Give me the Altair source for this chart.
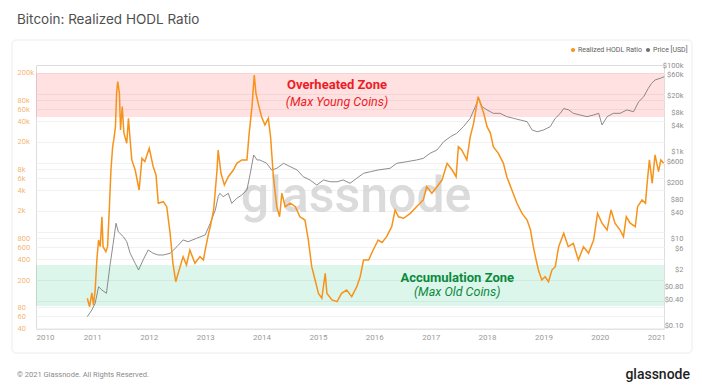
import altair as alt
import pandas as pd

# ---------------- data ----------------
hodl_years = [2010.91, 2010.95, 2010.99, 2011.02, 2011.05, 2011.08, 2011.11, 2011.14, 2011.17, 2011.19,
              2011.24, 2011.27, 2011.30, 2011.33, 2011.36, 2011.38, 2011.41, 2011.43, 2011.45, 2011.48,
              2011.50, 2011.53, 2011.56, 2011.61, 2011.64, 2011.67, 2011.70, 2011.76, 2011.83, 2011.88,
              2011.93, 2012.01, 2012.08, 2012.13, 2012.17, 2012.26, 2012.32, 2012.38, 2012.43, 2012.48,
              2012.54, 2012.61, 2012.67, 2012.73, 2012.82, 2012.91, 2012.97, 2013.00, 2013.06, 2013.09,
              2013.15, 2013.21, 2013.23, 2013.28, 2013.34, 2013.41, 2013.50, 2013.56, 2013.65, 2013.74,
              2013.78, 2013.83, 2013.87, 2013.90, 2013.94, 2014.00, 2014.06, 2014.12, 2014.16, 2014.21,
              2014.27, 2014.32, 2014.36, 2014.42, 2014.51, 2014.60, 2014.68, 2014.77, 2014.83, 2014.89,
              2014.95, 2015.01, 2015.07, 2015.13, 2015.16, 2015.25, 2015.34, 2015.42, 2015.51, 2015.60,
              2015.69, 2015.75, 2015.81, 2015.90, 2015.98, 2016.07, 2016.14, 2016.22, 2016.31, 2016.37,
              2016.43, 2016.52, 2016.64, 2016.75, 2016.87, 2016.93, 2017.02, 2017.11, 2017.20, 2017.29,
              2017.38, 2017.45, 2017.49, 2017.55, 2017.64, 2017.70, 2017.76, 2017.81, 2017.84, 2017.88,
              2017.94, 2018.00, 2018.06, 2018.11, 2018.20, 2018.29, 2018.35, 2018.44, 2018.53, 2018.62,
              2018.71, 2018.77, 2018.82, 2018.87, 2018.91, 2018.97, 2019.03, 2019.09, 2019.15, 2019.21,
              2019.27, 2019.36, 2019.44, 2019.53, 2019.62, 2019.71, 2019.80, 2019.89, 2019.96, 2020.04,
              2020.13, 2020.20, 2020.27, 2020.36, 2020.42, 2020.47, 2020.54, 2020.63, 2020.67, 2020.75,
              2020.81, 2020.84, 2020.88, 2020.93, 2020.98, 2021.04, 2021.08, 2021.13]
hodl_values = [109, 82, 130, 87, 143, 390, 760, 608, 1650, 608,
               514, 608, 2070, 7850, 17100, 21400, 33300, 101600, 149600, 101600,
               29900, 65000, 27000, 19200, 44100, 21400, 11000, 7850, 4030, 11600,
               10400, 16200, 8770, 6650, 2590, 2730, 2310, 950, 349, 189,
               279, 436, 330, 544, 349, 436, 390, 544, 950, 1184,
               2070, 7850, 15300, 7040, 4760, 6280, 7850, 9810, 11000, 11000,
               26700, 65000, 187000, 101600, 72700, 46500, 35300, 44100, 23800, 6280,
               2310, 1650, 3610, 2310, 2590, 2310, 1650, 1480, 760, 312,
               200, 128, 109, 250, 128, 103, 97, 128, 143, 115,
               160, 223, 390, 390, 544, 760, 700, 848, 1184, 2070,
               1650, 1570, 1850, 2310, 2890, 4500, 3610, 4500, 5620, 9810,
               7850, 6280, 17100, 15300, 11000, 23800, 37300, 65000, 90500, 72700,
               52100, 33300, 26700, 17100, 13700, 9810, 6280, 4030, 2590, 1850,
               1480, 1060, 608, 390, 279, 200, 223, 189, 279, 312,
               608, 950, 608, 680, 390, 608, 488, 760, 1850, 1330,
               1060, 2070, 1330, 1060, 848, 1650, 1330, 1184, 2310, 2890,
               2590, 5040, 11000, 5040, 13000, 7430, 11000, 9810]

price_years = [2010.91, 2010.99, 2011.05, 2011.11, 2011.17, 2011.25, 2011.31, 2011.37, 2011.42, 2011.46,
               2011.55, 2011.61, 2011.67, 2011.76, 2011.82, 2011.90, 2011.99, 2012.08, 2012.17, 2012.26,
               2012.38, 2012.50, 2012.61, 2012.70, 2012.85, 2013.00, 2013.09, 2013.18, 2013.23, 2013.26,
               2013.32, 2013.41, 2013.47, 2013.56, 2013.65, 2013.74, 2013.80, 2013.86, 2013.92, 2013.97,
               2014.09, 2014.18, 2014.27, 2014.39, 2014.51, 2014.63, 2014.74, 2014.86, 2014.98, 2015.10,
               2015.22, 2015.34, 2015.45, 2015.57, 2015.69, 2015.81, 2015.93, 2016.07, 2016.28, 2016.40,
               2016.58, 2016.75, 2016.87, 2016.99, 2017.11, 2017.23, 2017.35, 2017.46, 2017.58, 2017.70,
               2017.79, 2017.85, 2017.91, 2018.00, 2018.11, 2018.23, 2018.35, 2018.47, 2018.59, 2018.71,
               2018.80, 2018.89, 2019.00, 2019.12, 2019.21, 2019.30, 2019.36, 2019.45, 2019.53, 2019.65,
               2019.77, 2019.89, 2019.98, 2020.04, 2020.13, 2020.24, 2020.36, 2020.48, 2020.60, 2020.69,
               2020.78, 2020.86, 2020.92, 2020.98, 2021.07, 2021.14]
price_values = [0.164, 0.233, 0.332, 0.80, 0.67, 0.565, 2.31, 7.97, 23, 14.7,
                11.3, 8.67, 4.7, 2.76, 1.94, 3.29, 5.59, 4.7, 4.29, 4.29,
                4.7, 6.65, 9.5, 8.67, 10.4, 12.4, 23, 46.5, 94, 112,
                94, 112, 66, 86, 103, 134, 324, 853, 655, 655,
                550, 386, 422, 550, 459, 386, 270, 227, 174, 227,
                207, 207, 227, 191, 249, 324, 352, 386, 422, 550,
                599, 655, 716, 934, 1110, 1725, 2250, 2690, 3820, 5950,
                11000, 17150, 11000, 9260, 7750, 7750, 6490, 5950, 5430, 4980,
                3200, 2920, 3200, 3820, 5950, 7750, 10000, 9260, 7750, 7090,
                6490, 7090, 7750, 4180, 6490, 7750, 7750, 9260, 8440, 14340,
                18680, 29100, 37900, 45200, 49500, 53800]

zone_names = ["Overheated", "Accumulation"]
zone_low = [46000, 84]
zone_high = [200000, 330]
zone_colors = ["#ff5050", "#2ecc8f"]

zone_titles = ["Overheated Zone", "Accumulation Zone"]
zone_subtitles = ["(Max Young Coins)", "(Max Old Coins)"]
zone_label_years = [2015.34, 2017.47]
zone_title_values = [134000, 213]
zone_sub_values = [76000, 134]
zone_label_colors = ["#ee1c25", "#0b8a3c"]

left_ticks = [40, 60, 80, 100, 200, 400, 600, 800, 1000, 2000, 4000, 6000, 8000,
              10000, 20000, 40000, 60000, 80000, 100000, 200000]
right_ticks = [0.1, 0.4, 0.8, 2, 6, 10, 40, 80, 200, 600, 1000, 4000, 8000, 20000, 60000, 100000]
year_ticks = list(range(2010, 2022))

title_text = "Bitcoin: Realized HODL Ratio"
legend_labels = ["Realized HODL Ratio", "Price [USD]"]
footer_text = "\u00a9 2021 Glassnode. All Rights Reserved."
brand_text = "glassnode"

ORANGE = "#f7931a"
GRAY = "#707070"


def to_date(y):
    base = pd.Timestamp(year=int(y), month=1, day=1)
    return base + pd.Timedelta(days=(y - int(y)) * 365.25)


hodl_df = pd.DataFrame({"date": [to_date(y) for y in hodl_years], "value": hodl_values})
price_df = pd.DataFrame({"date": [to_date(y) for y in price_years], "value": price_values})
zone_df = pd.DataFrame({"zone": zone_names, "lo": zone_low, "hi": zone_high, "color": zone_colors})
label_df = pd.DataFrame({
    "date": [to_date(y) for y in zone_label_years],
    "title": zone_titles, "sub": zone_subtitles,
    "tv": zone_title_values, "sv": zone_sub_values, "color": zone_label_colors,
})

FONT = "Roboto"
W, H = 628, 264

x_scale = alt.Scale(domain=[alt.DateTime(year=2010, month=1, date=1),
                            alt.DateTime(year=2021, month=2, date=20)], nice=False)
left_scale = alt.Scale(type="log", domain=[39, 261000], nice=False)
right_scale = alt.Scale(type="log", domain=[0.0853, 100000], nice=False)

x_axis = alt.Axis(values=[alt.DateTime(year=y, month=1, date=1) for y in year_ticks],
                  format="%Y", title=None, grid=False, ticks=False, domain=True,
                  domainColor="#e4e4e4", labelColor="#9a9a9a", labelFontSize=8,
                  labelFont=FONT, labelPadding=4)

left_axis = alt.Axis(values=left_ticks, title=None, orient="left", ticks=False, domain=False,
                     grid=True, gridColor="#f1f1f1", gridWidth=1,
                     labelAlign="left", labelPadding=19, labelColor="#f2a552",
                     labelFontSize=7.5, labelFont=FONT, labelOpacity=0.85,
                     labelExpr="datum.value >= 1000 ? format(datum.value/1000, 'd') + 'k' : format(datum.value, 'd')")

right_axis = alt.Axis(values=right_ticks, title=None, orient="right", ticks=False, domain=False,
                      grid=False, labelAlign="right", labelPadding=19, labelColor="#8f8f8f",
                      labelFontSize=7.5, labelFont=FONT,
                      labelExpr="datum.value >= 1000 ? '$' + format(datum.value/1000, 'd') + 'k' : (datum.value >= 1 ? '$' + format(datum.value, 'd') : '$' + format(datum.value, '.2f'))")

# card frame
frame = alt.Chart(pd.DataFrame({"k": [0]})).mark_rect(
    fillOpacity=0, stroke="#ececec", strokeWidth=1, cornerRadius=4
).encode(x=alt.value(-24), x2=alt.value(656), y=alt.value(-25), y2=alt.value(288))

zones = alt.Chart(zone_df).mark_rect(opacity=0.17).encode(
    x=alt.value(0), x2=alt.value(W),
    y=alt.Y("lo:Q", scale=left_scale, axis=None),
    y2="hi:Q",
    color=alt.Color("color:N", scale=None),
)

watermark = alt.Chart(pd.DataFrame({"t": [brand_text]})).mark_text(
    font=FONT, fontSize=50, fontWeight=500, color="#cfcfcf", opacity=0.75,
    align="center", baseline="middle"
).encode(text="t:N", x=alt.value(320), y=alt.value(132))

price_line = alt.Chart(price_df).mark_line(color=GRAY, strokeWidth=0.8).encode(
    x=alt.X("date:T", scale=x_scale, axis=x_axis),
    y=alt.Y("value:Q", scale=right_scale, axis=right_axis),
)

hodl_line = alt.Chart(hodl_df).mark_line(color=ORANGE, strokeWidth=1.5).encode(
    x=alt.X("date:T", scale=x_scale),
    y=alt.Y("value:Q", scale=left_scale, axis=left_axis),
)

zone_title = alt.Chart(label_df).mark_text(
    font=FONT, fontSize=13, fontWeight="bold", align="center", baseline="middle"
).encode(
    x=alt.X("date:T", scale=x_scale),
    y=alt.Y("tv:Q", scale=left_scale, axis=None),
    text="title:N",
    color=alt.Color("color:N", scale=None),
)

zone_sub = alt.Chart(label_df).mark_text(
    font=FONT, fontSize=12.5, fontStyle="italic", align="center", baseline="middle"
).encode(
    x=alt.X("date:T", scale=x_scale),
    y=alt.Y("sv:Q", scale=left_scale, axis=None),
    text="sub:N",
    color=alt.Color("color:N", scale=None),
)

title = alt.Chart(pd.DataFrame({"t": [title_text]})).mark_text(
    font="Inter", fontSize=13.5, color="#4f4f4f", align="left", baseline="middle"
).encode(text="t:N", x=alt.value(-19), y=alt.value(-45))

legend_dots = alt.Chart(pd.DataFrame({"c": [ORANGE, GRAY], "px": [537, 612]})).mark_circle(
    size=18, opacity=1
).encode(x=alt.X("px:Q", scale=None), y=alt.value(-15), color=alt.Color("c:N", scale=None))

legend_text = alt.Chart(pd.DataFrame({"t": legend_labels, "px": [542, 617]})).mark_text(
    font=FONT, fontSize=7, color="#606060", align="left", baseline="middle"
).encode(text="t:N", x=alt.X("px:Q", scale=None), y=alt.value(-15))

footer = alt.Chart(pd.DataFrame({"t": [footer_text]})).mark_text(
    font=FONT, fontSize=7.5, color="#8a8a8a", align="left", baseline="middle"
).encode(text="t:N", x=alt.value(-19), y=alt.value(310))

brand = alt.Chart(pd.DataFrame({"t": [brand_text]})).mark_text(
    font=FONT, fontSize=14, fontWeight=500, color="#1e1e1e", align="right", baseline="middle"
).encode(text="t:N", x=alt.value(654), y=alt.value(310))

chart = alt.layer(
    frame, zones, watermark, price_line, hodl_line, zone_title, zone_sub,
    title, legend_dots, legend_text, footer, brand
).resolve_scale(y="independent").properties(
    width=W, height=H,
    padding={"left": 28, "top": 57, "right": 30, "bottom": 55},
    autosize=alt.AutoSizeParams(type="none"),
).configure_view(stroke=None).configure(background="white")

chart.save("out.html", embed_options={"renderer": "svg", "actions": False})
